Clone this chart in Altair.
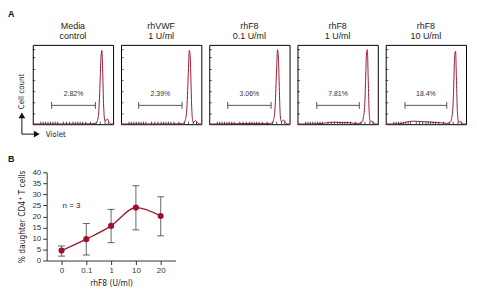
import altair as alt
import pandas as pd

# ---------------- data ----------------
PANEL_TITLES = [["Media", "control"], ["rhVWF", "1 U/ml"], ["rhF8", "0.1 U/ml"],
                ["rhF8", "1 U/ml"], ["rhF8", "10 U/ml"]]
GATE_LABELS = ["2.82%", "2.39%", "3.06%", "7.81%", "18.4%"]
GATE_LO = [23.5, 22, 23, 24, 24]
GATE_HI = [78, 76, 77, 77, 76]

HIST_X = [0, 10, 20, 25, 30, 35, 40, 45, 50, 55, 60, 65, 70, 75, 78, 80, 82, 84, 85, 86,
          87, 88, 89, 90, 91, 92, 93, 94, 95, 96, 97, 98, 100]
HIST_MEDIA = [0.3, 0.3, 0.3, 0.3, 0.3, 0.3, 0.3, 0.3, 0.3, 0.3, 0.3, 0.4, 0.5, 0.6, 1.0, 3,
              14, 58, 86, 93, 70, 30, 9, 3.5, 4.5, 6, 6.5, 5, 2.5, 1.2, 0.6, 0.3, 0.2]
HIST_VWF = [0.3, 0.3, 0.3, 0.3, 0.3, 0.3, 0.3, 0.3, 0.3, 0.3, 0.3, 0.4, 0.5, 0.7, 1.5, 5,
            20, 70, 93, 88, 58, 22, 6, 2.5, 3, 4, 4.5, 3.5, 2, 1, 0.5, 0.3, 0.2]
HIST_F8_01 = [0.3, 0.3, 0.4, 0.5, 0.6, 0.7, 0.8, 0.8, 0.8, 0.7, 0.7, 0.7, 0.8, 1.0, 1.5, 5,
              22, 72, 94, 86, 55, 20, 6, 3, 4, 5, 5, 4, 2, 1, 0.5, 0.3, 0.2]
HIST_F8_1 = [0.3, 0.3, 0.4, 0.6, 1.0, 1.5, 2.2, 2.5, 2.3, 2.0, 2.2, 1.8, 1.2, 1.0, 1.2, 2.5,
             8, 30, 62, 90, 94, 60, 22, 6, 3, 3.5, 4, 3, 1.5, 0.8, 0.4, 0.3, 0.2]
HIST_F8_10 = [0.3, 0.3, 1.0, 2.5, 3.6, 3.8, 3.6, 3.2, 3.0, 2.8, 2.4, 2.0, 1.6, 1.2, 1.2, 2,
              7, 28, 60, 88, 92, 60, 22, 6, 2.5, 3, 3.5, 2.5, 1.5, 0.8, 0.4, 0.3, 0.2]
HIST_COUNTS = [HIST_MEDIA, HIST_VWF, HIST_F8_01, HIST_F8_1, HIST_F8_10]

LEFT_TICKS = [13, 27, 41, 55, 69, 84, 94]
BOTTOM_TICKS = [10, 13, 16, 19, 22, 25, 28, 31, 38, 42, 46, 50, 53, 56, 59, 62, 66, 72, 79, 84, 90, 94]

CONC = ["0", "0.1", "1", "10", "20"]
MEAN = [4.5, 9.7, 15.7, 24.0, 20.2]
LOW = [2.0, 2.5, 8.1, 13.9, 11.2]
HIGH = [6.6, 16.8, 23.2, 33.9, 28.9]

# ---------------- style ----------------
FONT = "Liberation Sans, Arial, sans-serif"
NARROW = "Liberation Sans Narrow, DejaVu Sans Condensed, Roboto Condensed, Liberation Sans, sans-serif"
RED = "#9b1b30"
DOT = "#a0102a"
GRAY = "#555555"
PW, PH = 81, 80

xs = alt.Scale(domain=[0, 100], nice=False, zero=False)
ys = alt.Scale(domain=[0, 100], nice=False, zero=False)
one = pd.DataFrame({"k": [0]})


def hist_panel(i):
    df = pd.DataFrame({"x": HIST_X, "y": HIST_COUNTS[i]})
    line = alt.Chart(df).mark_line(color=RED, strokeWidth=1, interpolate="monotone").encode(
        x=alt.X("x:Q", scale=xs, axis=None), y=alt.Y("y:Q", scale=ys, axis=None))
    gdf = pd.DataFrame({"lo": [GATE_LO[i]], "hi": [GATE_HI[i]], "label": [GATE_LABELS[i]]})
    gate = alt.Chart(gdf).mark_rule(color=GRAY, strokeWidth=1).encode(
        x=alt.X("lo:Q", scale=xs, axis=None), x2="hi:Q", y=alt.value(61))
    caps = alt.Chart(gdf).transform_fold(["lo", "hi"], as_=["end", "pos"]).mark_rule(
        color=GRAY, strokeWidth=1).encode(
        x=alt.X("pos:Q", scale=xs, axis=None), y=alt.value(57.5), y2=alt.value(64.5))
    lab = alt.Chart(gdf).transform_calculate(mid="(datum.lo + datum.hi) / 2").mark_text(
        font=FONT, fontSize=7, color="#333", baseline="middle").encode(
        x=alt.X("mid:Q", scale=xs, axis=None), y=alt.value(50), text="label:N")
    lt = alt.Chart(pd.DataFrame({"t": LEFT_TICKS})).mark_rule(color="#222", strokeWidth=0.8).encode(
        y=alt.Y("t:Q", scale=ys, axis=None), x=alt.value(0), x2=alt.value(2.5))
    bt = alt.Chart(pd.DataFrame({"t": BOTTOM_TICKS})).mark_rule(color="#222", strokeWidth=0.8).encode(
        x=alt.X("t:Q", scale=xs, axis=None), y=alt.value(PH), y2=alt.value(PH - 2.5))
    layers = [line, gate, caps, lab, lt, bt]
    if i == 0:
        layers += [
            alt.Chart(one).mark_text(font=NARROW, fontSize=8, angle=270, color="#222",
                                     baseline="middle").encode(
                x=alt.value(-11), y=alt.value(47), text=alt.value("Cell count")),
            alt.Chart(one).mark_rule(color="#111", strokeWidth=1).encode(
                x=alt.value(-11), y=alt.value(90), y2=alt.value(73)),
            alt.Chart(one).mark_point(shape="triangle-up", filled=True, size=45, color="#111",
                                      opacity=1).encode(x=alt.value(-11), y=alt.value(71)),
            alt.Chart(one).mark_rule(color="#111", strokeWidth=1).encode(
                x=alt.value(-11), x2=alt.value(2), y=alt.value(90)),
            alt.Chart(one).mark_point(shape="triangle-right", filled=True, size=45, color="#111",
                                      opacity=1).encode(x=alt.value(4), y=alt.value(90)),
            alt.Chart(one).mark_text(font=NARROW, fontSize=8, align="left", baseline="middle",
                                     color="#222").encode(
                x=alt.value(13), y=alt.value(90.5), text=alt.value("Violet")),
        ]
    return alt.layer(*layers).properties(
        width=PW, height=PH,
        title=alt.TitleParams(text=PANEL_TITLES[i], font=FONT, fontSize=9, fontWeight="normal",
                              color="#222", offset=4, lineHeight=10.5, anchor="middle",
                              frame="group"),
        view=alt.ViewBackground(stroke="black", strokeWidth=1))


row_a = alt.hconcat(*[hist_panel(i) for i in range(5)], spacing=8, bounds="flush")

# ---------------- panel B ----------------
bdf = pd.DataFrame({"conc": CONC, "mean": MEAN, "low": LOW, "high": HIGH})
YT = "% daughter CD4\u207a T cells"
bx = alt.X("conc:N", sort=CONC, scale=alt.Scale(type="point", padding=0.6),
           axis=alt.Axis(title="rhF8 (U/ml)", labelAngle=0, tickSize=4, labelPadding=2,
                         titlePadding=4, titleFont=NARROW, titleFontSize=8.5,
                         titleFontWeight="normal", labelFont=FONT, labelFontSize=8,
                         domainColor="#333", tickColor="#333", labelColor="#333",
                         titleColor="#222", grid=False))
yscale = alt.Scale(domain=[0, 40], nice=False)
yaxis = alt.Axis(title=YT, values=list(range(0, 41, 5)), tickSize=4, labelPadding=2,
                 titlePadding=5, titleFont=NARROW, titleFontSize=8.5, titleFontWeight="normal",
                 labelFont=FONT, labelFontSize=8, domainColor="#333", tickColor="#333",
                 labelColor="#333", titleColor="#222", grid=False)

base = alt.Chart(bdf)
err = base.mark_rule(color="#808080", strokeWidth=1.2).encode(
    x=bx, y=alt.Y("low:Q", scale=yscale, axis=yaxis, title=YT), y2="high:Q")
capsb = base.transform_fold(["low", "high"], as_=["end", "val"]).mark_tick(
    color="#222", thickness=1, size=7).encode(
    x=bx, y=alt.Y("val:Q", scale=yscale, axis=yaxis, title=YT))
ln = base.mark_line(color=RED, strokeWidth=1.3, interpolate="monotone").encode(
    x=bx, y=alt.Y("mean:Q", scale=yscale, axis=yaxis, title=YT))
pts = base.mark_circle(color=DOT, size=38, opacity=1).encode(
    x=bx, y=alt.Y("mean:Q", scale=yscale, axis=yaxis, title=YT))
ntext = alt.Chart(one).mark_text(font=FONT, fontSize=8, color="#222", baseline="middle").encode(
    x=alt.value(25), y=alt.value(34), text=alt.value("n = 3"))
btext = alt.Chart(one).mark_text(font=FONT, fontSize=9, fontWeight="bold", align="left",
                                 baseline="top", color="#111").encode(
    x=alt.value(-39), y=alt.value(-17), text=alt.value("B"))

panel_b = alt.layer(err, capsb, ln, pts, ntext, btext).properties(
    width=130, height=89, view=alt.ViewBackground(strokeOpacity=0))

spacer = alt.Chart(one).mark_point(opacity=0).encode(
    x=alt.value(0), y=alt.value(0)).properties(
    width=6, height=89, view=alt.ViewBackground(strokeOpacity=0))

row_b = alt.hconcat(spacer, panel_b, spacing=8, bounds="flush")

chart = alt.vconcat(row_a, row_b, spacing=16.5).properties(
    title=alt.TitleParams(text="A", font=FONT, fontSize=9, fontWeight="bold", color="#111",
                          anchor="start", offset=2.5)
).configure(padding=0, background="white")

chart.save("out.html", embed_options={"renderer": "svg", "actions": False})
